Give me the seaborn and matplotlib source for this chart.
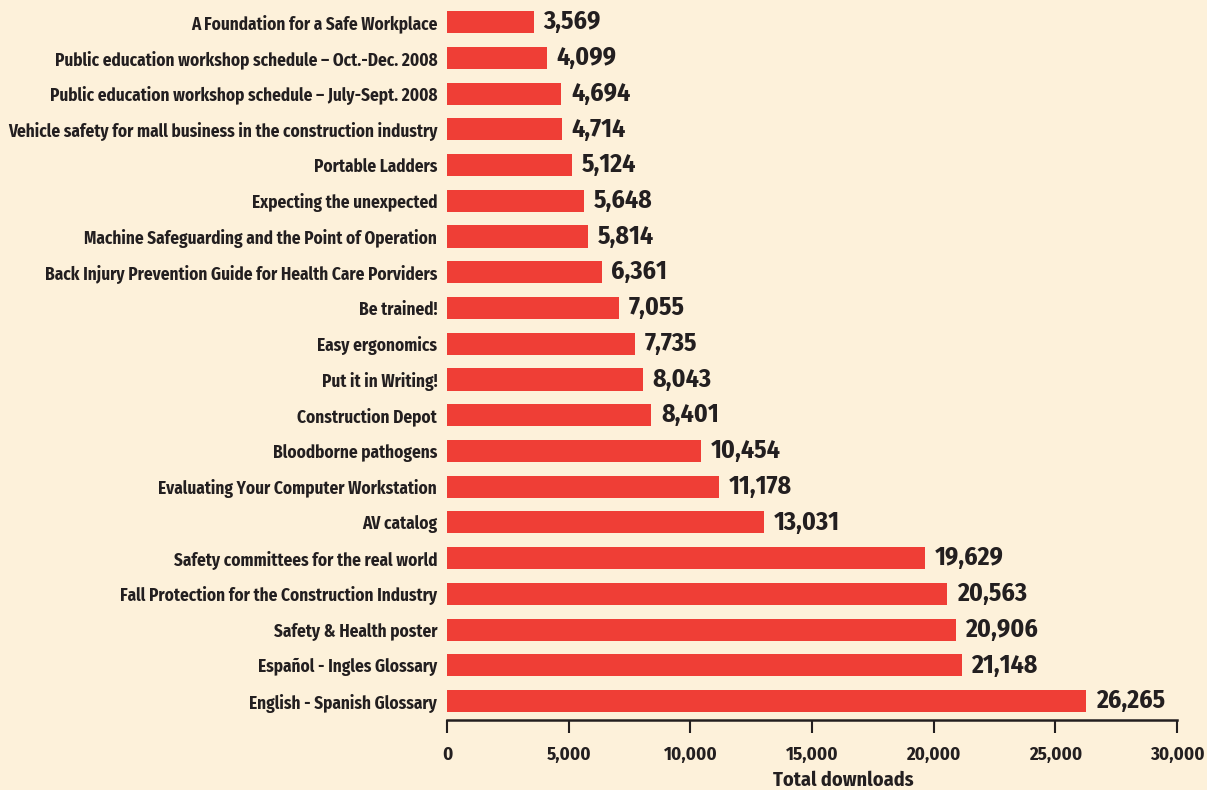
import matplotlib
matplotlib.use("Agg")
import matplotlib.pyplot as plt
import seaborn as sns
import pandas as pd
from matplotlib import font_manager
from matplotlib.font_manager import FontProperties

# 数据
titles = [
    "A Foundation for a Safe Workplace",
    "Public education workshop schedule – Oct.-Dec. 2008",
    "Public education workshop schedule – July-Sept. 2008",
    "Vehicle safety for mall business in the construction industry",
    "Portable Ladders",
    "Expecting the unexpected",
    "Machine Safeguarding and the Point of Operation",
    "Back Injury Prevention Guide for Health Care Porviders",
    "Be trained!",
    "Easy ergonomics",
    "Put it in Writing!",
    "Construction Depot",
    "Bloodborne pathogens",
    "Evaluating Your Computer Workstation",
    "AV catalog",
    "Safety committees for the real world",
    "Fall Protection for the Construction Industry",
    "Safety & Health poster",
    "Español - Ingles Glossary",
    "English - Spanish Glossary",
]
downloads = [3569, 4099, 4694, 4714, 5124, 5648, 5814, 6361, 7055, 7735,
             8043, 8401, 10454, 11178, 13031, 19629, 20563, 20906, 21148, 26265]
x_ticks = [0, 5000, 10000, 15000, 20000, 25000, 30000]

df = pd.DataFrame({"title": titles, "downloads": downloads})

bg = "#fdf1da"
red = "#ef3e36"
ink = "#231f20"

# 找一个窄体粗体字体
cond = None
for key in ["SansNarrow-Bold", "SansCondensed-Bold", "Condensed-Bold", "Narrow-Bold",
            "CondensedBold", "Condensed_Bold"]:
    for f in font_manager.findSystemFonts():
        if key.lower() in f.replace(" ", "").lower() and "italic" not in f.lower() \
                and "oblique" not in f.lower():
            cond = f
            break
    if cond:
        break

if cond:
    lab_fp = FontProperties(fname=cond, size=12.4)
    val_fp = FontProperties(fname=cond, size=18.5)
    tick_fp = FontProperties(fname=cond, size=13.5)
    xl_fp = FontProperties(fname=cond, size=14.5)
else:
    lab_fp = FontProperties(family="DejaVu Sans", weight="bold", size=9)
    val_fp = FontProperties(family="DejaVu Sans", weight="bold", size=14)
    tick_fp = FontProperties(family="DejaVu Sans", weight="bold", size=11)
    xl_fp = FontProperties(family="DejaVu Sans", weight="bold", size=14)

sns.set_style("white")
plt.rcParams["font.family"] = ["DejaVu Sans"]

fig = plt.figure(figsize=(12.07, 7.9), dpi=100, facecolor=bg)
ax = fig.add_axes([0.3703, 0.0886, 0.6049, 0.906])
ax.set_facecolor(bg)

sns.barplot(data=df, x="downloads", y="title", color=red, saturation=1,
            width=0.62, orient="h", linewidth=0, ax=ax)

# 数值标签
for i, v in enumerate(downloads):
    ax.text(v + 400, i, f"{v:,}", va="center", ha="left",
            fontproperties=val_fp, color=ink)

ax.set_xlim(0, 30000)
ax.set_ylim(19.53, -0.5)
ax.set_xticks(x_ticks)
ax.set_xticklabels([f"{t:,}" for t in x_ticks], fontproperties=tick_fp, color=ink)
ax.set_yticks(range(len(titles)))
ax.set_yticklabels(titles, fontproperties=lab_fp, color=ink)
ax.tick_params(axis="x", bottom=True, direction="out", length=9.5, width=1.5,
               color=ink, pad=9)
ax.tick_params(axis="y", left=False, length=0, pad=7)
ax.set_ylabel("")
ax.set_xlabel("Total downloads", fontproperties=xl_fp, color=ink, va="center")
ax.xaxis.set_label_coords(0.5425, -0.0838)

for s in ["top", "right", "left"]:
    ax.spines[s].set_visible(False)
ax.spines["bottom"].set_color(ink)
ax.spines["bottom"].set_linewidth(1.8)

fig.savefig("out.png", dpi=100, facecolor=bg)
